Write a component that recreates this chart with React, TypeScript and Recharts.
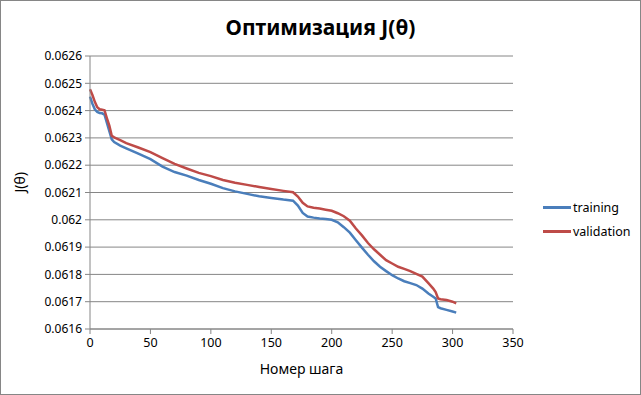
import { LineChart, Line, XAxis, YAxis, CartesianGrid } from 'recharts';

const steps = [
  0, 2, 4, 6, 8, 10, 12, 14, 16, 18, 20, 25, 30, 40, 50, 60, 70, 80, 90, 100,
  110, 120, 130, 140, 150, 160, 168, 172, 176, 180, 185, 190, 195, 200, 205, 210,
  215, 220, 225, 230, 235, 240, 245, 250, 255, 260, 265, 270, 275, 280, 284, 286,
  288, 290, 295, 300, 303,
];

const training = [
  0.062451, 0.062425, 0.062405, 0.062395, 0.062391, 0.06239, 0.062385, 0.062355, 0.062325, 0.062295,
  0.062285, 0.062272, 0.062262, 0.062242, 0.062222, 0.062195, 0.062175, 0.062162, 0.062146, 0.062132,
  0.062116, 0.062104, 0.062095, 0.062086, 0.06208, 0.062074, 0.06207, 0.062052, 0.062025, 0.062012,
  0.062008, 0.062005, 0.062003, 0.062, 0.061991, 0.061973, 0.061953, 0.061925, 0.061898, 0.061872,
  0.061848, 0.061828, 0.061812, 0.061797, 0.061785, 0.061775, 0.061768, 0.061761, 0.061748, 0.06173,
  0.061718, 0.061712, 0.06168, 0.061676, 0.06167, 0.061664, 0.06166,
];

const validation = [
  0.062478, 0.062457, 0.062432, 0.062412, 0.062405, 0.062403, 0.062401, 0.062372, 0.062345, 0.062308,
  0.062302, 0.062292, 0.062281, 0.062265, 0.062248, 0.062226, 0.062205, 0.062188, 0.062172, 0.06216,
  0.062146, 0.062136, 0.062128, 0.06212, 0.062113, 0.062106, 0.062101, 0.062085, 0.062062, 0.062049,
  0.062044, 0.062041, 0.062037, 0.062033, 0.062024, 0.062013, 0.061997, 0.061968, 0.061943, 0.061915,
  0.061892, 0.061872, 0.061852, 0.06184, 0.061828, 0.06182, 0.061812, 0.061802, 0.061792, 0.061768,
  0.061748, 0.061735, 0.061712, 0.061709, 0.061706, 0.0617, 0.061694,
];

const yTicks = [0.0616, 0.0617, 0.0618, 0.0619, 0.062, 0.0621, 0.0622, 0.0623, 0.0624, 0.0625, 0.0626];
const xTicks = [0, 50, 100, 150, 200, 250, 300, 350];

const series = [
  { key: 'training', name: 'training', color: '#4A7EBB' },
  { key: 'validation', name: 'validation', color: '#BE4B48' },
];

const data = steps.map((s, i) => ({ step: s, training: training[i], validation: validation[i] }));

const font = '"Noto Sans", "DejaVu Sans", sans-serif';
const gray = '#868686';

export default function App() {
  return (
    <div
      style={{
        position: 'absolute',
        left: 0,
        top: 0,
        width: 641,
        height: 395,
        background: '#fff',
        boxSizing: 'border-box',
        border: `1px solid ${gray}`,
        fontFamily: font,
      }}
    >
      <div
        style={{
          position: 'absolute',
          left: 0,
          right: 0,
          top: 12,
          textAlign: 'center',
          fontSize: 21,
          fontWeight: 'bold',
          color: '#000',
        }}
      >
        Оптимизация J(θ)
      </div>
      <div style={{ position: 'absolute', left: -1, top: -1 }}>
        <LineChart width={641} height={395} data={data} margin={{ top: 56, right: 128, left: 0, bottom: 0 }}>
          <CartesianGrid vertical={false} stroke={gray} strokeWidth={1} />
          <XAxis
            dataKey="step"
            type="number"
            domain={[0, 350]}
            ticks={xTicks}
            height={66}
            stroke={gray}
            tickSize={5}
            tick={{ fill: '#000', fontSize: 12.5, fontFamily: font }}
            tickMargin={4}
            label={{ value: 'Номер шага', position: 'insideBottom', offset: 21, fill: '#000', fontSize: 14, fontFamily: font }}
          />
          <YAxis
            type="number"
            domain={[0.0616, 0.0626]}
            ticks={yTicks}
            width={90}
            stroke={gray}
            tickSize={5}
            tickMargin={3}
            tick={{ fill: '#000', fontSize: 12, fontFamily: font }}
            tickFormatter={(v: number) => Number(v.toFixed(4)).toString()}
            label={{ value: 'J(θ)', angle: -90, position: 'insideLeft', offset: 20, fill: '#000', fontSize: 14, fontFamily: font }}
          />
          {series.map((s) => (
            <Line key={s.key} type="linear" dataKey={s.key} name={s.name} stroke={s.color} strokeWidth={2.5} dot={false} isAnimationActive={false} />
          ))}
        </LineChart>
      </div>
      <div style={{ position: 'absolute', left: 542, top: 194, fontSize: 12.5, color: '#000' }}>
        {series.map((s) => (
          <div key={s.key} style={{ display: 'flex', alignItems: 'center', height: 24 }}>
            <span style={{ display: 'inline-block', width: 28, height: 3, background: s.color, marginRight: 2 }} />
            <span>{s.name}</span>
          </div>
        ))}
      </div>
    </div>
  );
}
